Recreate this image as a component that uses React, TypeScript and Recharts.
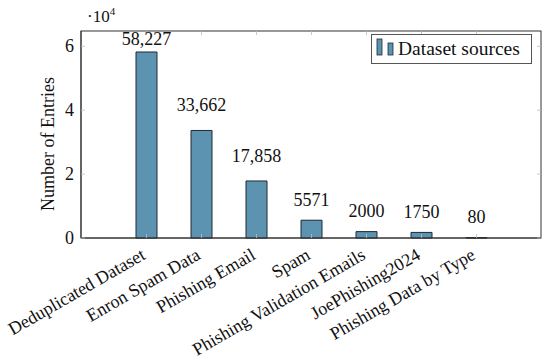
import React from 'react';
import { BarChart, Bar, XAxis, YAxis, LabelList, Label, Legend, ReferenceArea } from 'recharts';

const categories = [
  'Deduplicated Dataset',
  'Enron Spam Data',
  'Phishing Email',
  'Spam',
  'Phishing Validation Emails',
  'JoePhishing2024',
  'Phishing Data by Type',
];
const entries = [58227, 33662, 17858, 5571, 2000, 1750, 80];
const valueLabels = ['58,227', '33,662', '17,858', '5571', '2000', '1750', '80'];
const yTicks = [0, 20000, 40000, 60000];
const yTickLabels = ['0', '2', '4', '6'];
const yMax = 64800;
const seriesName = 'Dataset sources';
const axisTitle = 'Number of Entries';

const data = categories.map((name, i) => ({ name, value: entries[i], label: valueLabels[i] }));

const W = 550;
const H = 360;
const TOP = 31;
const BOTTOM = 238;
const LEFT = 81;
const RIGHT = 541;
const FONT = '"Liberation Serif", "DejaVu Serif", serif';
const BAR_FILL = '#5b93b1';
const BAR_STROKE = '#1f2a30';
const FRAME = '#333';
const TICKC = '#bdbdbd';

const XTick = (props: any) => {
  const { x, y, payload } = props;
  const ax = x - 3;
  const ay = y + 15;
  return (
    <g>
      <line x1={x} x2={x} y1={BOTTOM} y2={BOTTOM - 4} stroke={TICKC} strokeWidth={0.8} />
      <line x1={x} x2={x} y1={TOP} y2={TOP + 4} stroke={TICKC} strokeWidth={0.8} />
      <text
        x={ax}
        y={ay}
        textAnchor="end"
        dominantBaseline="central"
        transform={`rotate(-30, ${ax}, ${ay})`}
        fontFamily={FONT}
        fontSize={18}
        fill="#111"
      >
        {payload.value}
      </text>
    </g>
  );
};

const YTick = (props: any) => {
  const { x, y, payload } = props;
  const idx = yTicks.indexOf(payload.value);
  return (
    <g>
      <line x1={LEFT} x2={LEFT + 4} y1={y} y2={y} stroke={TICKC} strokeWidth={0.8} />
      <line x1={RIGHT} x2={RIGHT - 4} y1={y} y2={y} stroke={TICKC} strokeWidth={0.8} />
      <text x={x} y={y} textAnchor="end" dominantBaseline="central" fontFamily={FONT} fontSize={18} fill="#111">
        {idx >= 0 ? yTickLabels[idx] : ''}
      </text>
    </g>
  );
};

const BarValue = (props: any) => {
  const { x, y, width, index } = props;
  const text = valueLabels[index];
  const off = text.includes(',') ? 19 : 14.5;
  const baseline = Math.max(y - off, TOP + 14);
  return (
    <text x={x + width / 2} y={baseline} textAnchor="middle" fontFamily={FONT} fontSize={18} fill="#111">
      {text}
    </text>
  );
};

const AxisTitle = () => {
  const cx = 48;
  const cy = 144;
  return (
    <text
      x={cx}
      y={cy}
      textAnchor="middle"
      dominantBaseline="central"
      transform={`rotate(-90, ${cx}, ${cy})`}
      fontFamily={FONT}
      fontSize={18}
      fill="#111"
    >
      {axisTitle}
    </text>
  );
};

const FrameShape = (props: any) => {
  const { y, height } = props;
  return <rect x={LEFT} y={y} width={RIGHT - LEFT} height={height} fill="none" stroke={FRAME} strokeWidth={1} />;
};

const LegendBox = () => (
  <div
    style={{
      width: 161,
      height: 30,
      border: '1px solid #555',
      background: '#fff',
      display: 'flex',
      alignItems: 'center',
      boxSizing: 'border-box',
      fontFamily: FONT,
      fontSize: 19.5,
      color: '#111',
    }}
  >
    <svg width={26} height={28} style={{ display: 'block' }}>
      <rect x={5} y={4} width={5} height={16} fill={BAR_FILL} stroke={BAR_STROKE} strokeWidth={0.8} />
      <rect x={16} y={8} width={5} height={12} fill={BAR_FILL} stroke={BAR_STROKE} strokeWidth={0.8} />
    </svg>
    <span style={{ lineHeight: '28px', whiteSpace: 'nowrap' }}>{seriesName}</span>
  </div>
);

export default function App() {
  return (
    <div style={{ position: 'absolute', left: 0, top: 0, width: W, height: H, background: '#fff' }}>
      <BarChart
        width={W}
        height={H}
        data={data}
        margin={{ top: TOP, right: W - RIGHT, bottom: 0, left: 0 }}
        barSize={21}
      >
        <XAxis
          dataKey="name"
          xAxisId="main"
          height={H - BOTTOM}
          interval={0}
          padding={{ left: 38, right: 37 }}
          tickLine={false}
          tickSize={0}
          tickMargin={0}
          axisLine={{ stroke: FRAME, strokeWidth: 1 }}
          tick={<XTick />}
        />
        <YAxis
          yAxisId="main"
          width={LEFT}
          domain={[0, yMax]}
          ticks={yTicks}
          tickLine={false}
          tickSize={5}
          tickMargin={2}
          axisLine={{ stroke: FRAME, strokeWidth: 1 }}
          tick={<YTick />}
        >
          <Label content={<AxisTitle />} />
        </YAxis>
        <ReferenceArea
          xAxisId="main"
          yAxisId="main"
          y1={0}
          y2={yMax}
          ifOverflow="visible"
          shape={<FrameShape />}
        />
        <Legend
          layout="horizontal"
          verticalAlign="middle"
          align="center"
          content={<LegendBox />}
          wrapperStyle={{ position: 'absolute', left: 371, top: 34, width: 161, height: 30 }}
        />
        <Bar
          dataKey="value"
          name={seriesName}
          xAxisId="main"
          yAxisId="main"
          fill={BAR_FILL}
          stroke={BAR_STROKE}
          strokeWidth={1}
          isAnimationActive={false}
        >
          <LabelList dataKey="label" content={<BarValue />} />
        </Bar>
      </BarChart>
      <div
        style={{
          position: 'absolute',
          left: 87,
          top: 7,
          fontFamily: FONT,
          fontSize: 17,
          color: '#111',
          lineHeight: '20px',
          whiteSpace: 'nowrap',
        }}
      >
        ·10<sup style={{ fontSize: 11, verticalAlign: 'super', lineHeight: 0 }}>4</sup>
      </div>
    </div>
  );
}
